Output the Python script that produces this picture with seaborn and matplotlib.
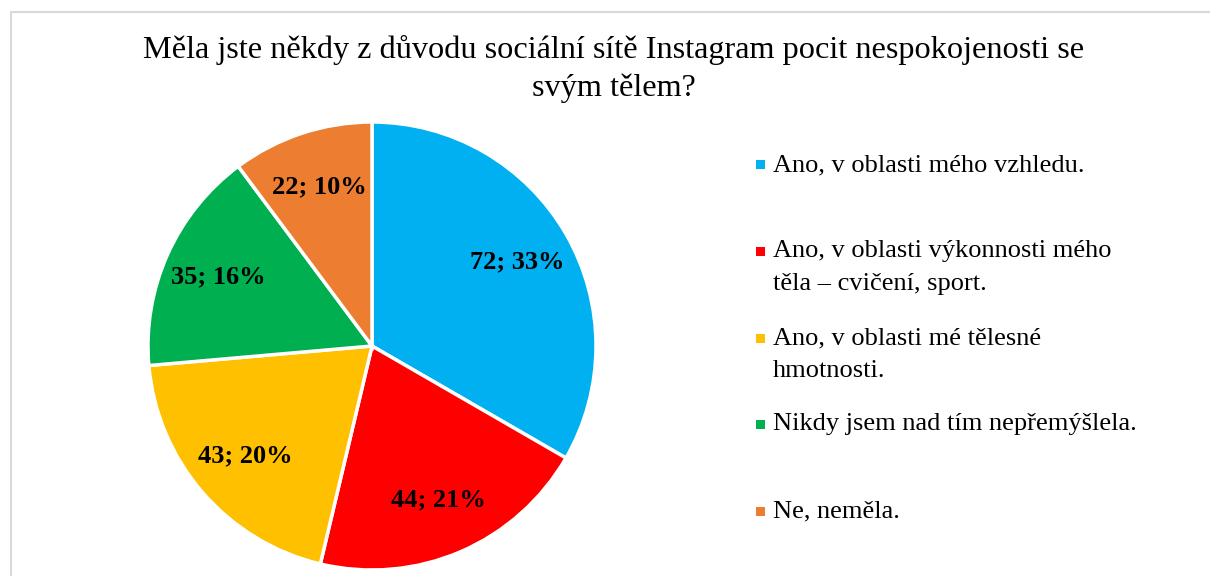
import matplotlib
matplotlib.use("Agg")
import matplotlib.pyplot as plt
from matplotlib.patches import Rectangle
from matplotlib.lines import Line2D
import seaborn as sns

title_lines = ["Měla jste někdy z důvodu sociální sítě Instagram pocit nespokojenosti se",
               "svým tělem?"]
categories = [
    "Ano, v oblasti mého vzhledu.",
    "Ano, v oblasti výkonnosti mého\ntěla – cvičení, sport.",
    "Ano, v oblasti mé tělesné\nhmotnosti.",
    "Nikdy jsem nad tím nepřemýšlela.",
    "Ne, neměla.",
]
values = [72, 44, 43, 35, 22]
value_labels = ["72; 33%", "44; 21%", "43; 20%", "35; 16%", "22; 10%"]
colors = ["#00B0F0", "#FF0000", "#FFC000", "#00B050", "#ED7D31"]

sns.set_theme(style="white")
plt.rcParams["font.family"] = ["Liberation Serif", "DejaVu Serif"]

W, H = 1210, 576
fig = plt.figure(figsize=(W / 100, H / 100), dpi=100)
fig.patch.set_facecolor("white")

def fx(px):
    return px / W

def fy(py):
    return 1 - py / H

# pie axes: center (372, 346), radius 224 px
cx, cy, r = 372, 346, 224
ax = fig.add_axes([fx(cx - r), fy(cy + r), 2 * r / W, 2 * r / H])
wedges, texts = ax.pie(
    values,
    colors=colors,
    startangle=90,
    counterclock=False,
    labels=value_labels,
    labeldistance=0.75,
    wedgeprops=dict(edgecolor="white", linewidth=2.5),
    textprops=dict(fontsize=19, fontweight="bold", color="black"),
)
for t in texts:
    t.set_ha("center")
    t.set_va("center")
for w in wedges:
    w.set_clip_on(False)
ax.set_xlim(-1, 1)
ax.set_ylim(-1, 1)
ax.set_aspect("equal")
ax.axis("off")

# title (two lines, 38 px apart)
for i, line in enumerate(title_lines):
    fig.text(fx(614), fy(50 + i * 38), line, ha="center", va="center",
             fontsize=23.2, color="black")

# legend (manual)
entry_y = [165, 251, 338, 424, 511]
line_h = 33
for lab, col, y0 in zip(categories, colors, entry_y):
    fig.patches.append(Rectangle((fx(756), fy(y0 + 4.5)), 9 / W, 9 / H,
                                 transform=fig.transFigure, facecolor=col,
                                 edgecolor="none"))
    for i, line in enumerate(lab.split("\n")):
        fig.text(fx(773), fy(y0 + i * line_h), line, ha="left", va="center",
                 fontsize=19, color="black")

# chart frame (left and top edges visible)
fig.add_artist(Line2D([fx(11.5), fx(11.5)], [fy(11.5), 0], transform=fig.transFigure,
                      color="#D9D9D9", linewidth=1.5))
fig.add_artist(Line2D([fx(11.5), 1], [fy(11.5), fy(11.5)], transform=fig.transFigure,
                      color="#D9D9D9", linewidth=1.5))

fig.savefig("out.png", dpi=100, facecolor="white")
